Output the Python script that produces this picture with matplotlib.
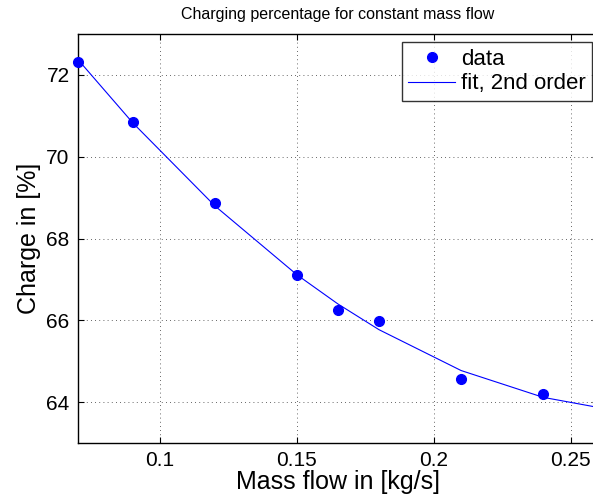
import numpy as np
import matplotlib.pyplot as plt

plt.rcParams['font.family'] = ['Liberation Sans', 'DejaVu Sans']

# measured charge vs. mass flow
mass_flow = [0.07, 0.09, 0.12, 0.15, 0.165, 0.18, 0.21, 0.24]
charge = [72.32, 70.86, 68.88, 67.10, 66.26, 65.98, 64.56, 64.21]

# fit is evaluated at the data points and extended to the axis end
fit_x = mass_flow + [0.26]

x_ticks = [0.1, 0.15, 0.2, 0.25]
x_ticklabels = ['0.1', '0.15', '0.2', '0.25']
y_ticks = [64, 66, 68, 70, 72]

coeffs = np.polyfit(mass_flow, charge, 2)
fit_y = np.polyval(coeffs, fit_x)

fig = plt.figure(figsize=(5.93, 5.04), dpi=100)
ax = fig.add_axes([78 / 593, 61 / 504, 520 / 593, 409 / 504])

ax.plot(mass_flow, charge, 'o', color='#0000ff', markersize=7, label='data',
        clip_on=False, zorder=3)
ax.plot(fit_x, fit_y, '-', color='#0000ff', linewidth=0.8, label='fit, 2nd order')

ax.set_xlim(0.07, 0.26)
ax.set_ylim(63, 73)
ax.set_xticks(x_ticks)
ax.set_xticklabels(x_ticklabels)
ax.set_yticks(y_ticks)
ax.tick_params(direction='in', length=4, width=0.8, labelsize=15,
               top=True, right=True, pad=6)
ax.grid(True, color='black', linestyle=(0, (1, 4)), linewidth=0.6, alpha=0.8)
for s in ax.spines.values():
    s.set_linewidth(1.0)

ax.set_xlabel('Mass flow in [kg/s]', fontsize=18, labelpad=0)
ax.set_ylabel('Charge in [%]', fontsize=18, labelpad=4)
ax.set_title('Charging percentage for constant mass flow', fontsize=11.5, pad=10.5)

leg = ax.legend(loc='upper right', bbox_to_anchor=(592.3 / 593, 1 - 42.3 / 504),
                bbox_transform=fig.transFigure, fontsize=16, frameon=True,
                fancybox=False, edgecolor='black', borderpad=0.3,
                labelspacing=0.15, handlelength=2.1, handletextpad=0.26,
                borderaxespad=0)
leg.get_frame().set_linewidth(1.0)

fig.savefig('out.png', dpi=100)
